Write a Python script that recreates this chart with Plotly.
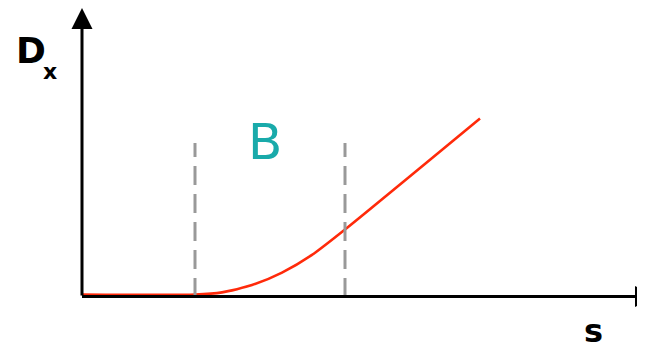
import plotly.graph_objects as go

# curve: displacement Dx vs s (arbitrary units, 1 unit ~ 10 px)
s_vals = [0, 11.3, 14.0, 17.0, 20.0, 23.0, 26.3, 39.8]
dx_vals = [0, 0, 0.21, 0.94, 2.19, 3.96, 6.5, 17.6]

# region B boundaries
b_bounds = [11.3, 26.3]
b_top = 15.15

fig = go.Figure()

fig.add_trace(go.Scatter(
    x=s_vals,
    y=dx_vals,
    mode='lines',
    line=dict(color='#ff2a0a', width=2.6, shape='spline', smoothing=0.6),
    showlegend=False,
    hoverinfo='skip'
))

for sb in b_bounds:
    fig.add_shape(
        type='line', xref='x', yref='y',
        x0=sb, x1=sb, y0=-0.25, y1=b_top,
        line=dict(color='#999999', width=3, dash='19px,9px')
    )

# axes with arrows
fig.add_annotation(
    x=0, y=28.65, ax=0, ay=-0.25,
    xref='x', yref='y', axref='x', ayref='y',
    showarrow=True, arrowhead=2, arrowsize=1.4, arrowwidth=3,
    arrowcolor='black', text='', standoff=0
)
fig.add_annotation(
    x=57.4, y=-0.2, ax=-0.15, ay=-0.2,
    xref='x', yref='y', axref='x', ayref='y',
    showarrow=True, arrowhead=2, arrowsize=1.4, arrowwidth=3,
    arrowcolor='black', text='', standoff=0
)

label_font = dict(family='DejaVu Sans', color='black')
fig.add_annotation(x=-5.1, y=24.45, text='<b>D</b>', showarrow=False,
                   font=dict(size=36, **label_font))
fig.add_annotation(x=-3.2, y=22.35, text='<b>x</b>', showarrow=False,
                   font=dict(size=22, **label_font))
fig.add_annotation(x=51.1, y=-3.6, text='<b>s</b>', showarrow=False,
                   font=dict(size=32, **label_font))
fig.add_annotation(x=18.3, y=15.25, text='B', showarrow=False,
                   font=dict(family='DejaVu Sans', size=50, color='#19aaaa'))

# page body has an 8px margin, so the figure is a bit smaller than the window
fig.update_layout(
    width=637, height=341,
    margin=dict(l=0, r=0, t=0, b=0),
    paper_bgcolor='white',
    plot_bgcolor='white',
    xaxis=dict(range=[-7.4, 56.3], visible=False, fixedrange=True),
    yaxis=dict(range=[-5.45, 28.65], visible=False, fixedrange=True),
)

fig.write_html("out.html")
